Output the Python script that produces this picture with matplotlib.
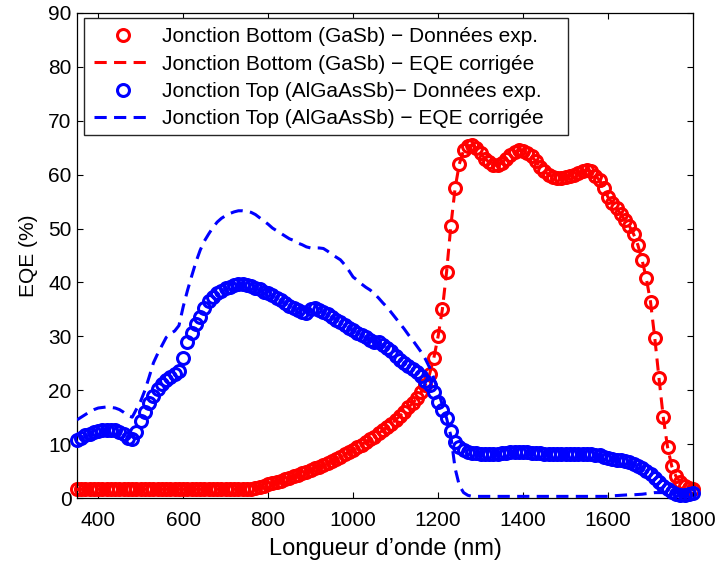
import numpy as np
import matplotlib
matplotlib.use("Agg")
import matplotlib.pyplot as plt
from matplotlib.patches import Rectangle

plt.rcParams['font.family'] = ['Liberation Sans', 'DejaVu Sans']

# Wavelength grid (nm), 10 nm step
wavelength = np.arange(350, 1801, 10)

# Bottom junction (GaSb) - experimental EQE (%)
bottom_exp = [
    1.6, 1.6, 1.6, 1.6, 1.6, 1.6, 1.6, 1.6, 1.6, 1.6,   # 350-440
    1.6, 1.6, 1.6, 1.6, 1.6, 1.6, 1.6, 1.6, 1.6, 1.6,   # 450-540
    1.6, 1.6, 1.6, 1.6, 1.6, 1.6, 1.6, 1.6, 1.6, 1.6,   # 550-640
    1.6, 1.6, 1.6, 1.6, 1.6, 1.6, 1.6, 1.6, 1.6, 1.6,   # 650-740
    1.6, 1.7, 1.9, 2.1, 2.3, 2.6, 2.8, 3.0, 3.2, 3.5,   # 750-840
    3.7, 4.0, 4.3, 4.6, 4.9, 5.2, 5.5, 5.8, 6.2, 6.5,   # 850-940
    6.9, 7.3, 7.7, 8.1, 8.5, 9.0, 9.4, 9.9, 10.4, 10.9,  # 950-1040
    11.4, 12.0, 12.6, 13.2, 13.8, 14.5, 15.2, 16.0, 16.8, 17.6,  # 1050-1140
    18.5, 19.6, 21.0, 23.0, 26.0, 30.0, 35.0, 42.0, 50.5, 57.5,  # 1150-1240
    62.0, 64.5, 65.3, 65.5, 65.0, 64.0, 63.0, 62.3, 61.8, 61.8,  # 1250-1340
    62.2, 63.0, 63.7, 64.2, 64.5, 64.4, 64.0, 63.4, 62.5, 61.5,  # 1350-1440
    60.6, 60.0, 59.6, 59.4, 59.4, 59.5, 59.7, 60.0, 60.3, 60.6,  # 1450-1540
    60.8, 60.6, 59.8, 59.0, 57.5, 55.8, 54.8, 53.8, 52.7, 51.5,  # 1550-1640
    50.5, 49.0, 47.0, 44.2, 40.8, 36.4, 29.7, 22.2, 15.0, 9.5,   # 1650-1740
    5.9, 4.0, 3.0, 2.3, 1.9, 1.6,                                # 1750-1800
]

# Bottom junction (GaSb) - corrected EQE coincides with the measured points
bottom_corr = list(bottom_exp)

# Top junction (AlGaAsSb) - experimental EQE (%)
top_exp = [
    10.8, 11.2, 11.6, 11.9, 12.2, 12.4, 12.6, 12.7, 12.7, 12.6,  # 350-440
    12.3, 11.8, 11.2, 10.9, 12.3, 14.2, 16.0, 17.6, 19.0, 20.2,  # 450-540
    21.1, 21.9, 22.5, 23.0, 23.6, 26.0, 28.9, 30.7, 32.2, 33.6,  # 550-640
    35.2, 36.6, 37.3, 38.0, 38.5, 38.9, 39.2, 39.5, 39.7, 39.8,  # 650-740
    39.6, 39.4, 39.0, 38.7, 38.3, 38.0, 37.6, 37.1, 36.7, 36.2,  # 750-840
    35.7, 35.3, 34.9, 34.5, 34.3, 35.0, 35.2, 34.9, 34.5, 34.1,  # 850-940
    33.6, 33.1, 32.6, 32.1, 31.6, 31.1, 30.7, 30.2, 29.8, 29.4,  # 950-1040
    29.0, 29.0, 28.4, 27.8, 27.2, 26.4, 25.7, 25.0, 24.5, 23.9,  # 1050-1140
    23.3, 22.7, 21.8, 21.0, 19.6, 17.8, 16.3, 14.8, 12.5, 10.3,  # 1150-1240
    9.4, 8.9, 8.6, 8.4, 8.3, 8.2, 8.1, 8.1, 8.1, 8.2,            # 1250-1340
    8.3, 8.4, 8.5, 8.5, 8.5, 8.5, 8.5, 8.4, 8.3, 8.3,            # 1350-1440
    8.2, 8.2, 8.2, 8.2, 8.2, 8.2, 8.2, 8.2, 8.2, 8.2,            # 1450-1540
    8.2, 8.1, 8.0, 7.9, 7.7, 7.5, 7.3, 7.1, 7.0, 6.9,            # 1550-1640
    6.7, 6.4, 6.0, 5.5, 5.0, 4.4, 3.7, 3.0, 2.3, 1.7,            # 1650-1740
    1.2, 0.8, 0.6, 0.6, 0.7, 0.9,                                # 1750-1800
]

# Top junction (AlGaAsSb) - corrected EQE (%)
top_corr = [
    14.5, 15.0, 15.5, 16.0, 16.4, 16.7, 16.8, 16.9, 16.8, 16.7,  # 350-440
    16.4, 15.9, 15.3, 15.0, 16.5, 18.0, 20.0, 22.5, 25.1, 26.8,  # 450-540
    28.3, 29.8, 30.5, 31.0, 32.0, 35.5, 38.5, 41.2, 43.8, 46.0,  # 550-640
    47.7, 49.0, 50.2, 51.2, 51.9, 52.4, 52.8, 53.1, 53.3, 53.3,  # 650-740
    53.2, 53.0, 52.6, 52.0, 51.4, 50.8, 50.1, 49.6, 49.1, 48.6,  # 750-840
    48.1, 47.8, 47.3, 47.0, 46.6, 46.4, 46.4, 46.4, 46.3, 45.8,  # 850-940
    45.2, 44.7, 44.2, 43.3, 42.2, 41.0, 40.4, 39.7, 39.1, 38.6,  # 950-1040
    37.9, 37.1, 36.2, 35.4, 34.4, 33.4, 32.4, 31.4, 30.3, 29.3,  # 1050-1140
    28.2, 27.1, 25.8, 24.2, 22.2, 19.8, 17.3, 14.8, 11.5, 5.5,   # 1150-1240
    2.3, 1.0, 0.5, 0.3, 0.3, 0.3, 0.3, 0.3, 0.3, 0.3,            # 1250-1340
    0.3, 0.3, 0.3, 0.3, 0.3, 0.3, 0.3, 0.3, 0.3, 0.3,            # 1350-1440
    0.3, 0.3, 0.3, 0.3, 0.3, 0.3, 0.3, 0.3, 0.3, 0.3,            # 1450-1540
    0.3, 0.3, 0.3, 0.3, 0.3, 0.3, 0.4, 0.45, 0.5, 0.55,          # 1550-1640
    0.6, 0.6, 0.65, 0.7, 0.8, 0.9, 1.0, 1.0, 1.0, 1.0,           # 1650-1740
    1.0, 1.0, 0.9, 0.9, 0.9, 0.9,                                # 1750-1800
]

labels = [
    "Jonction Bottom (GaSb) \u2212 Données exp.",
    "Jonction Bottom (GaSb) \u2212 EQE corrigée",
    "Jonction Top (AlGaAsSb)\u2212 Données exp.",
    "Jonction Top (AlGaAsSb) \u2212 EQE corrigée",
]
x_ticks = [400, 600, 800, 1000, 1200, 1400, 1600, 1800]
y_ticks = [0, 10, 20, 30, 40, 50, 60, 70, 80, 90]

W, H = 719, 567
fig = plt.figure(figsize=(W / 100, H / 100), dpi=100)
ax = fig.add_axes([77 / W, (H - 498) / H, (693 - 77) / W, (498 - 13) / H])

ms, mew = 8.6, 2.2
dash = (4.0, 2.4)
lw = 2.2

ax.plot(wavelength, bottom_exp, linestyle='none', marker='o', ms=ms, mew=mew,
        mfc='none', mec='#ff0000', clip_on=False, label=labels[0], zorder=2)
ax.plot(wavelength, bottom_corr, linestyle='--', dashes=dash, color='#ff0000',
        lw=lw, label=labels[1], zorder=3)
ax.plot(wavelength, top_exp, linestyle='none', marker='o', ms=ms, mew=mew,
        mfc='none', mec='#0000ff', clip_on=False, label=labels[2], zorder=4)
ax.plot(wavelength, top_corr, linestyle='--', dashes=dash, color='#0000ff',
        lw=lw, label=labels[3], zorder=5)

ax.set_xlim(350, 1800)
ax.set_ylim(0, 90)
ax.set_xticks(x_ticks)
ax.set_yticks(y_ticks)
ax.tick_params(direction='in', length=4.3, width=0.8, top=True, right=True,
               labelsize=15, colors='black')
ax.tick_params(axis='x', pad=9)
ax.tick_params(axis='y', pad=4)
for s in ax.spines.values():
    s.set_linewidth(0.9)
    s.set_color('black')

ax.set_xlabel("Longueur d\u2019onde (nm)", fontsize=17, labelpad=6)
ax.set_ylabel("EQE (%)", fontsize=15, labelpad=7)

# legend frame (MATLAB-style box with generous right padding)
frame = Rectangle((84 / W, (H - 135) / H), (568 - 84) / W, (135 - 18) / H,
                  transform=fig.transFigure, facecolor='white',
                  edgecolor='0.15', linewidth=1.0, zorder=9)
ax.add_artist(frame)
frame.set_clip_on(False)

leg = ax.legend(loc='upper left',
                bbox_to_anchor=(84 / W, (H - 17) / H),
                bbox_transform=fig.transFigure,
                borderaxespad=0, fontsize=15, frameon=False,
                handlelength=2.75, handletextpad=0.5,
                borderpad=0.5, labelspacing=0.4)
leg.set_zorder(10)

fig.savefig("out.png", dpi=100)
